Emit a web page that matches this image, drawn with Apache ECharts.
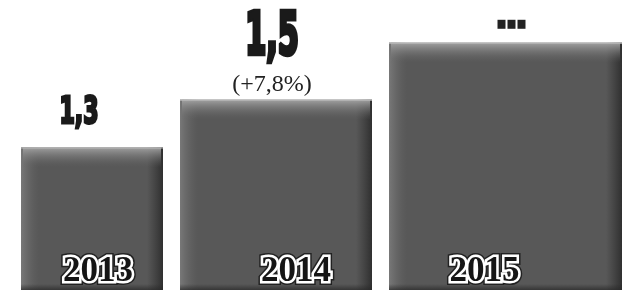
<!DOCTYPE html>
<html>
<head>
<meta charset="utf-8">
<script src="https://cdn.jsdelivr.net/npm/echarts@6/dist/echarts.min.js"></script>
<style>
  html, body { margin: 0; padding: 0; background: #fff; }
  #chart { width: 630px; height: 290px; }
</style>
</head>
<body>
<div id="chart"></div>
<script>
// data
const years = ["2013", "2014", "2015"];
const values = [1.3, 1.5, 1.74]; // 2015 has no printed value, height read off the bar
const valueLabels = ["1,3", "1,5", ""];
const changeLabels = ["", "(+7,8%)", ""];

// layout (bars have different widths in the original)
const barSpan = [[21, 163], [180, 372], [389, 622]];
const valueDx = [-13, -4, 6];
const yearDx = [6, 20, -21];
const axisMin = 0.7;

function grad(horizontal, from, to) {
  return {
    type: "linear", x: 0, y: 0, x2: horizontal ? 1 : 0, y2: horizontal ? 0 : 1,
    colorStops: [{ offset: 0, color: from }, { offset: 1, color: to }]
  };
}

document.addEventListener("DOMContentLoaded", function () {
  const chart = echarts.init(document.getElementById("chart"));

  function renderBar(params, api) {
    const i = api.value(0);
    const p0 = api.coord([barSpan[i][0], api.value(1)]);
    const p1 = api.coord([barSpan[i][1], axisMin]);
    const x0 = p0[0], y0 = p0[1], x1 = p1[0], y1 = p1[1];
    const w = x1 - x0, h = y1 - y0;
    const cx = (x0 + x1) / 2;
    const kids = [
      { type: "rect", shape: { x: x0, y: y0, width: w, height: h }, style: { fill: "#585858" } },
      { type: "rect", shape: { x: x0, y: y0, width: 18, height: h }, style: { fill: grad(true, "rgba(120,120,120,1)", "rgba(100,100,100,0)") } },
      { type: "rect", shape: { x: x1 - 16, y: y0, width: 16, height: h }, style: { fill: grad(true, "rgba(50,50,50,0)", "rgba(45,45,45,0.95)") } },
      { type: "rect", shape: { x: x0 + 2, y: y0, width: w - 4, height: 20 }, style: { fill: grad(false, "rgba(165,165,165,0.95)", "rgba(100,100,100,0)") } },
      { type: "rect", shape: { x: x0, y: y1 - 6, width: w, height: 6 }, style: { fill: grad(false, "rgba(40,40,40,0)", "rgba(40,40,40,0.7)") } },
      { type: "rect", shape: { x: x0, y: y0, width: w, height: 1 }, style: { fill: "#b8b8b8" } }
    ];

    // year label: outlined serif
    const yx = cx + yearDx[i], yy = y1 - 18;
    const yearFont = 'bold 35px "Liberation Serif"';
    kids.push(
      { type: "text", x: yx, y: yy, style: { text: years[i], font: yearFont, align: "center", verticalAlign: "middle", fill: "#222", stroke: "#222", lineWidth: 8 } },
      { type: "text", x: yx, y: yy, style: { text: years[i], font: yearFont, align: "center", verticalAlign: "middle", fill: "#fff", stroke: "#fff", lineWidth: 5 } },
      { type: "text", x: yx, y: yy, style: { text: years[i], font: yearFont, align: "center", verticalAlign: "middle", fill: "#151515" } }
    );

    const vx = cx + valueDx[i];
    if (valueLabels[i] && !changeLabels[i]) {
      kids.push({
        type: "text", x: vx, y: y0 - 34, scaleX: 0.66,
        style: { text: valueLabels[i], font: 'bold 37px "DejaVu Sans Condensed"', align: "center", verticalAlign: "middle", fill: "#1a1a1a", stroke: "#1a1a1a", lineWidth: 3 }
      });
    } else if (valueLabels[i]) {
      kids.push({
        type: "text", x: vx, y: y0 - 61, scaleX: 0.58,
        style: { text: valueLabels[i], font: 'bold 58px "DejaVu Sans Condensed"', align: "center", verticalAlign: "middle", fill: "#1a1a1a", stroke: "#1a1a1a", lineWidth: 4.5 }
      });
      kids.push({
        type: "text", x: vx, y: y0 - 15,
        style: { text: changeLabels[i], font: '24px "Liberation Serif"', align: "center", verticalAlign: "middle", fill: "#222" }
      });
    } else {
      for (let k = -1; k <= 1; k++) {
        kids.push({ type: "rect", shape: { x: vx + k * 10 - 4, y: y0 - 23, width: 8, height: 9 }, style: { fill: "#222" } });
      }
    }
    return { type: "group", children: kids };
  }

  const option = {
    animation: false,
    backgroundColor: "#fff",
    grid: { left: 0, right: 0, top: 0, bottom: 0 },
    xAxis: { type: "value", min: 0, max: 630, show: false },
    yAxis: { type: "value", min: axisMin, max: 1.92, show: false },
    series: [
      {
        type: "custom",
        clip: false,
        renderItem: renderBar,
        data: values.map((v, i) => [i, v])
      }
    ]
  };
  chart.setOption(option);

  window.addEventListener("resize", () => {
    chart.resize();
  });
});
</script>
</body>
</html>
